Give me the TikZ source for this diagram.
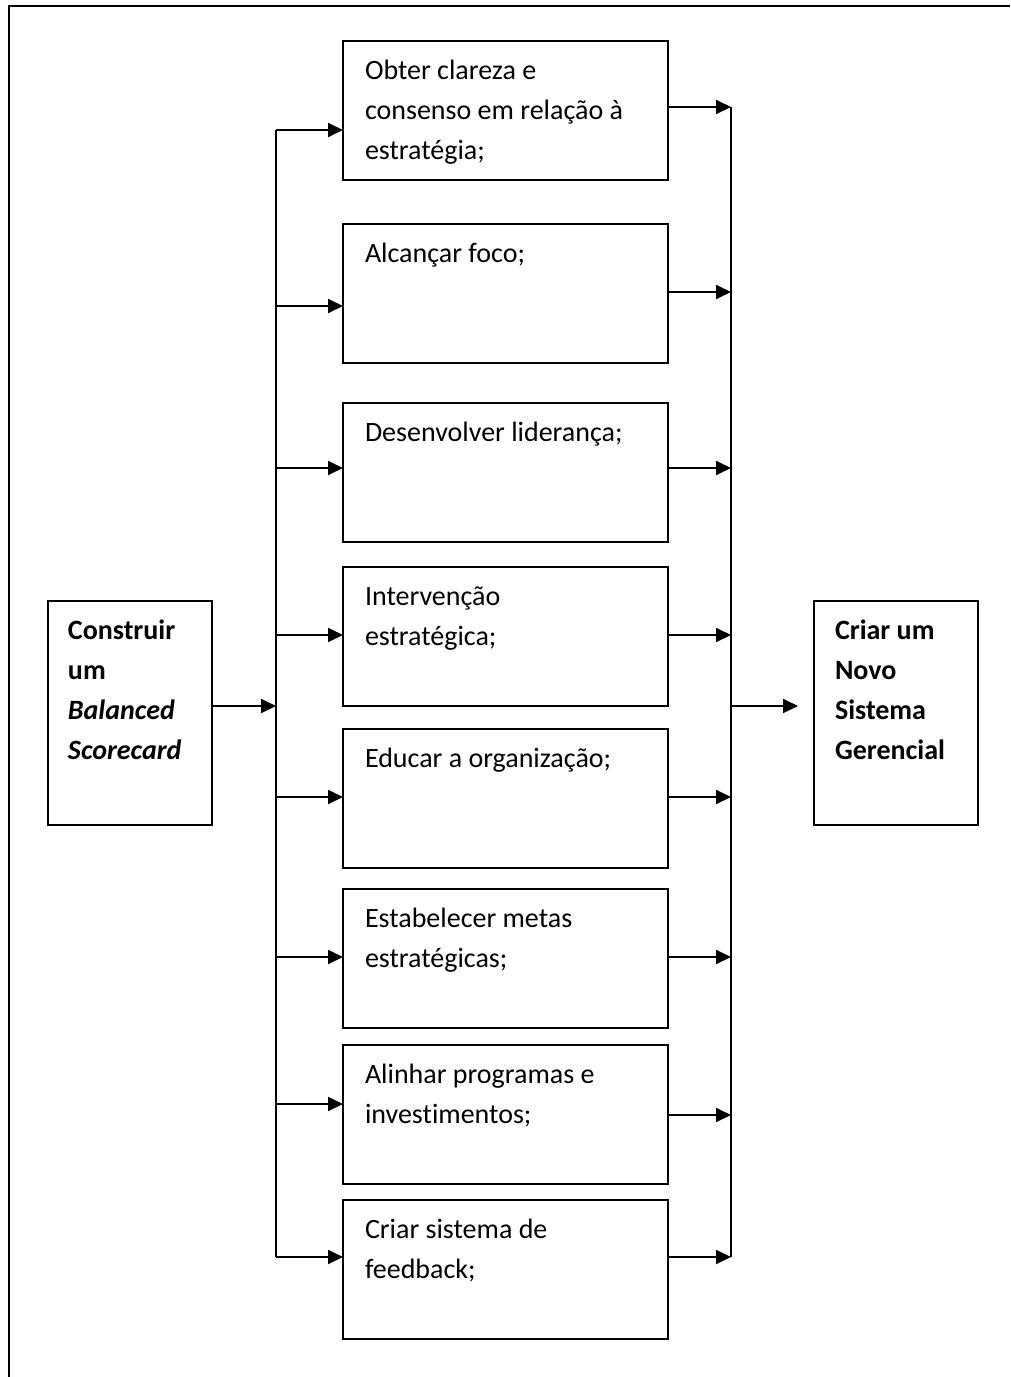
\documentclass[tikz,border=0pt]{standalone}
\usepackage{fontspec}
\setmainfont[Ligatures={NoCommon}]{Carlito}
\usetikzlibrary{arrows.meta}
\newdimen\txw
\newdimen\txi
\newcommand\txl[1]{\hbox to\txw{\kern\txi\rule{0pt}{38pt}#1\hfil}}
\newcommand\bxc[4]{\txw=#1\relax\txi=#3\relax\vbox to #2{\baselineskip=40pt\lineskiplimit=-1000pt\lineskip=0pt #4\vfil}}
\tikzset{
  box/.style={draw, line width=2pt, rectangle, inner sep=0pt, outer sep=0pt, anchor=north west, font=\fontsize{28}{40}\selectfont},
  conn/.style={line width=1.8pt},
  arr/.style={line width=1.8pt, -{Triangle[length=15pt,width=14pt]}},
}
\begin{document}
\begin{tikzpicture}[x=1pt,y=-1pt]
\useasboundingbox (0,0) rectangle (1010,1377);
% frame
\draw[line width=2pt] (9,1377) -- (9,6) -- (1010,6);
% middle boxes
\node[box] (b1) at (343,41)   {\bxc{325pt}{139pt}{22pt}{\txl{Obter clareza e}\txl{consenso em relação à}\txl{estratégia;}}};
\node[box] (b2) at (343,224)  {\bxc{325pt}{139pt}{22pt}{\txl{Alcançar foco;}}};
\node[box] (b3) at (343,403)  {\bxc{325pt}{139pt}{22pt}{\txl{Desenvolver liderança;}}};
\node[box] (b4) at (343,567)  {\bxc{325pt}{139pt}{22pt}{\txl{Intervenção}\txl{estratégica;}}};
\node[box] (b5) at (343,729)  {\bxc{325pt}{139pt}{22pt}{\txl{Educar a organização;}}};
\node[box] (b6) at (343,889)  {\bxc{325pt}{139pt}{22pt}{\txl{Estabelecer metas}\txl{estratégicas;}}};
\node[box] (b7) at (343,1045) {\bxc{325pt}{139pt}{22pt}{\txl{Alinhar programas e}\txl{investimentos;}}};
\node[box] (b8) at (343,1200) {\bxc{325pt}{139pt}{22pt}{\txl{Criar sistema de}\txl{feedback;}}};
% side boxes
\node[box] (lb) at (48,601)  {\bxc{164pt}{224pt}{20pt}{\bfseries\txl{Construir}\txl{um}\txl{\itshape Balanced}\txl{\itshape Scorecard}}};
\node[box] (rb) at (814,601) {\bxc{164pt}{224pt}{21pt}{\bfseries\txl{Criar um}\txl{Novo}\txl{Sistema}\txl{Gerencial}}};
% bus junction coordinates
\coordinate (L1) at (276,130);
\coordinate (L2) at (276,306);
\coordinate (L3) at (276,468);
\coordinate (L4) at (276,635);
\coordinate (L5) at (276,797);
\coordinate (L6) at (276,957);
\coordinate (L7) at (276,1104);
\coordinate (L8) at (276,1257);
\coordinate (Lin) at (276,706);
\coordinate (R1) at (731,107);
\coordinate (R2) at (731,292);
\coordinate (R3) at (731,468);
\coordinate (R4) at (731,635);
\coordinate (R5) at (731,797);
\coordinate (R6) at (731,957);
\coordinate (R7) at (731,1115);
\coordinate (R8) at (731,1257);
\coordinate (Rout) at (731,706);
% buses
\draw[conn] (L1) -- (L8);
\draw[conn] (R1) -- (R8);
% input and output
\draw[arr] (lb.east |- Lin) -- (Lin);
\draw[arr, shorten >=16pt] (Rout) -- (rb.west |- Rout);
% left branches
\foreach \i in {1,...,8} {
  \draw[arr] (L\i) -- (L\i -| b\i.west);
}
% right branches
\foreach \i in {1,...,8} {
  \draw[arr] (b\i.east |- R\i) -- (R\i);
}
\end{tikzpicture}
\end{document}
